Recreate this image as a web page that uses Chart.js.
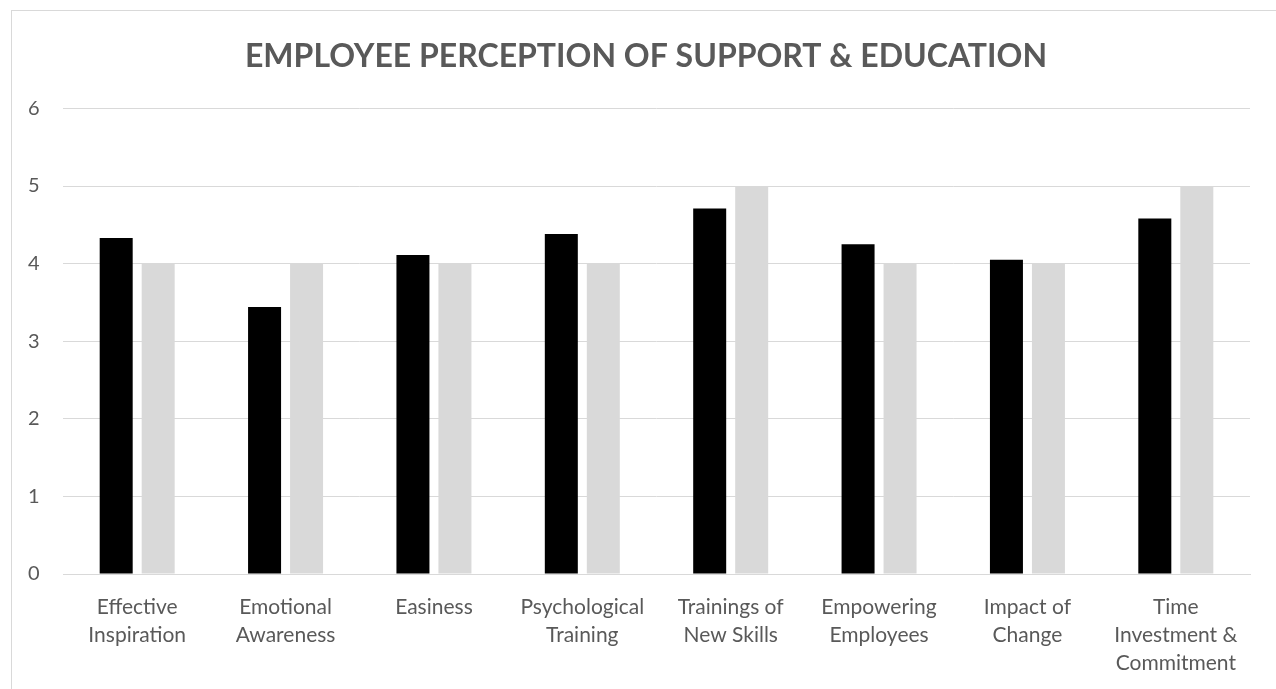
<!DOCTYPE html>
<html>
<head>
<meta charset="utf-8">
<title>Employee Perception of Support &amp; Education</title>
<script src="https://cdn.jsdelivr.net/npm/chart.js@4"></script>
<style>
  html, body { margin: 0; padding: 0; background: #fff; overflow: hidden; }
  #frame {
    position: absolute; left: 11px; top: 10px;
    width: 1400px; height: 800px;
    border: 1px solid #d9d9d9;
  }
  #wrap { position: absolute; left: 0; top: 0; width: 1276px; height: 689px; }
</style>
</head>
<body>
<div id="frame"></div>
<div id="wrap"><canvas id="chart" width="1276" height="689"></canvas></div>
<script>
  // ── Data ──────────────────────────────────────────────────────────────────
  const CATEGORIES = [
    ['Effective', 'Inspiration'],
    ['Emotional', 'Awareness'],
    ['Easiness'],
    ['Psychological', 'Training'],
    ['Trainings of', 'New Skills'],
    ['Empowering', 'Employees'],
    ['Impact of', 'Change'],
    ['Time', 'Investment &', 'Commitment'],
  ];
  const MEAN_SCORES   = [4.33, 3.44, 4.11, 4.38, 4.71, 4.25, 4.05, 4.58];
  const MEDIAN_SCORES = [4, 4, 4, 4, 5, 4, 4, 5];
  const Y_MIN = 0, Y_MAX = 6, Y_STEP = 1;

  const TEXT = '#595959';
  const GRID = '#d9d9d9';
  const FONT = 'Lato, "Open Sans", sans-serif';

  Chart.defaults.font.family = FONT;
  Chart.defaults.color = TEXT;

  new Chart(document.getElementById('chart'), {
    type: 'bar',
    data: {
      labels: CATEGORIES,
      datasets: [
        {
          label: 'Mean',
          data: MEAN_SCORES,
          backgroundColor: '#000000',
          barPercentage: 0.786,
          categoryPercentage: 0.566,
        },
        {
          label: 'Median',
          data: MEDIAN_SCORES,
          backgroundColor: '#d9d9d9',
          barPercentage: 0.786,
          categoryPercentage: 0.566,
        },
      ],
    },
    options: {
      responsive: false,
      animation: false,
      // left padding keeps the title centred over the plot, not the canvas
      layout: { padding: { left: 42, right: 26, top: 0, bottom: 0 } },
      plugins: {
        legend: { display: false },
        tooltip: { enabled: false },
        title: {
          display: true,
          text: 'EMPLOYEE PERCEPTION OF SUPPORT & EDUCATION',
          color: TEXT,
          font: { family: FONT, size: 32, weight: 'bold', lineHeight: 1.2 },
          padding: { top: 37, bottom: 33 },
        },
      },
      scales: {
        x: {
          grid: { display: false },
          border: { display: true, color: GRID, width: 1 },
          ticks: {
            color: TEXT,
            font: { size: 21, lineHeight: 1.33 },
            padding: 11,
            maxRotation: 0,
            autoSkip: false,
          },
          afterFit: s => { s.height = 115; },
        },
        y: {
          min: Y_MIN,
          max: Y_MAX,
          grid: { color: GRID, lineWidth: 1, drawTicks: false },
          border: { display: false },
          ticks: {
            stepSize: Y_STEP,
            color: TEXT,
            font: { size: 20 },
            // mirrored labels are not clipped to the narrow axis box,
            // so a negative padding pulls them back out to the left
            mirror: true,
            padding: -35,
          },
          afterFit: s => { s.width = 21; },
        },
      },
    },
  });
</script>
</body>
</html>
